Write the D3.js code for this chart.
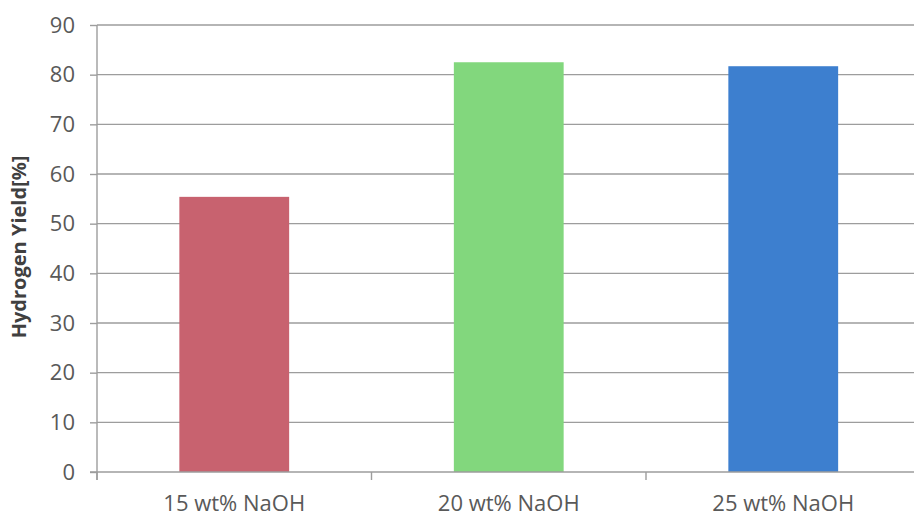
<!DOCTYPE html>
<html>
<head>
<meta charset="utf-8">
<script src="https://cdn.jsdelivr.net/npm/d3@7/dist/d3.min.js"></script>
<style>
  html, body { margin: 0; padding: 0; background: #fff; }
  svg { display: block; }
</style>
</head>
<body>
<svg id="chart" width="914" height="518"></svg>
<script>
// Hydrogen yield for each NaOH concentration
const categories = ["15 wt% NaOH", "20 wt% NaOH", "25 wt% NaOH"];
const yieldValues = [55.4, 82.5, 81.7];
const barColors = ["#c8626f", "#82d77d", "#3d7fcf"];
const yTicks = [0, 10, 20, 30, 40, 50, 60, 70, 80, 90];

const svg = d3.select("#chart");
const plotLeft = 97, plotRight = 920.5, plotTop = 25, plotBottom = 472;

const x = d3.scaleBand().domain(categories).range([plotLeft, plotRight]).padding(0);
const y = d3.scaleLinear().domain([0, 90]).range([plotBottom, plotTop]);
const barW = x.bandwidth() * 0.40;

// horizontal gridlines
svg.append("g")
  .selectAll("line")
  .data(yTicks.filter(t => t > 0))
  .join("line")
  .attr("x1", plotLeft).attr("x2", plotRight)
  .attr("y1", d => y(d)).attr("y2", d => y(d))
  .attr("stroke", "#9d9d9d").attr("stroke-width", 1.4);

// bars
svg.append("g")
  .selectAll("rect")
  .data(categories)
  .join("rect")
  .attr("x", (d) => x(d) + (x.bandwidth() - barW) / 2)
  .attr("width", barW)
  .attr("y", (d, i) => y(yieldValues[i]))
  .attr("height", (d, i) => y(0) - y(yieldValues[i]))
  .attr("fill", (d, i) => barColors[i]);

// y axis
const yAxis = svg.append("g")
  .attr("transform", `translate(${plotLeft},0)`)
  .call(d3.axisLeft(y).tickValues(yTicks).tickSize(7).tickPadding(15));
yAxis.select(".domain").attr("stroke", "#9d9d9d").attr("stroke-width", 1.4)
  .attr("d", `M0,${plotTop}V${plotBottom + 8}`);
yAxis.selectAll(".tick line").attr("stroke", "#9d9d9d").attr("stroke-width", 1.4);
yAxis.selectAll(".tick text")
  .attr("fill", "#595959")
  .style("font-family", "'Open Sans', sans-serif")
  .style("font-size", "22px");

// x axis with boundary ticks between categories
const xAxis = svg.append("g")
  .attr("transform", `translate(0,${plotBottom})`);
xAxis.append("line")
  .attr("x1", plotLeft - 7).attr("x2", plotRight)
  .attr("stroke", "#9d9d9d").attr("stroke-width", 1.4);
xAxis.selectAll("line.bound")
  .data(d3.range(categories.length + 1))
  .join("line")
  .attr("class", "bound")
  .attr("x1", i => plotLeft + i * x.step()).attr("x2", i => plotLeft + i * x.step())
  .attr("y1", 0).attr("y2", 8)
  .attr("stroke", "#9d9d9d").attr("stroke-width", 1.4);
xAxis.selectAll("text")
  .data(categories)
  .join("text")
  .attr("x", d => x(d) + x.bandwidth() / 2)
  .attr("y", 39)
  .attr("text-anchor", "middle")
  .attr("fill", "#595959")
  .style("font-family", "'Open Sans', sans-serif")
  .style("font-size", "22px")
  .text(d => d);

// y axis title
svg.append("text")
  .attr("transform", `translate(26,247) rotate(-90)`)
  .attr("text-anchor", "middle")
  .attr("fill", "#404040")
  .style("font-family", "'Open Sans', sans-serif")
  .style("font-weight", "bold")
  .style("font-size", "20px")
  .text("Hydrogen Yield[%]");
</script>
</body>
</html>
